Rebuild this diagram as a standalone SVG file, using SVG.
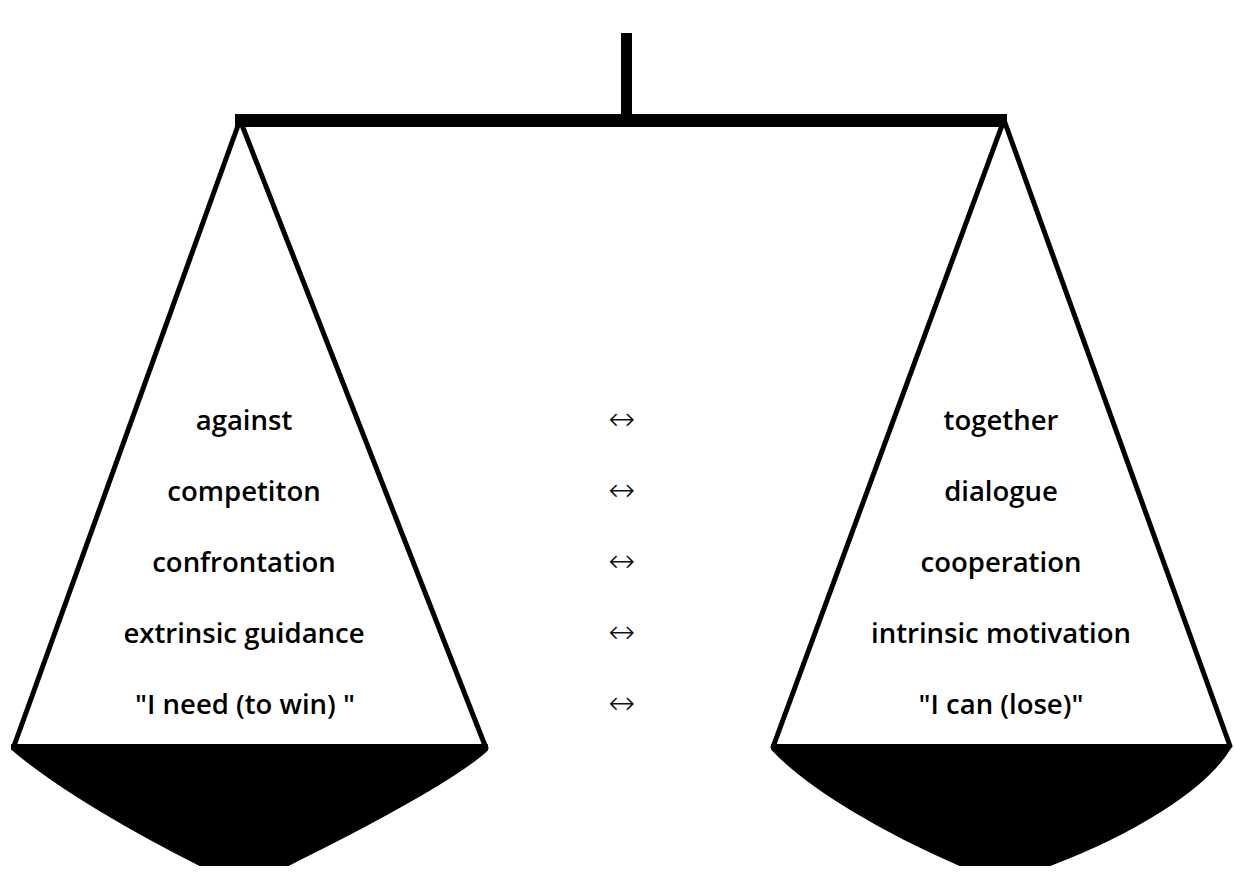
<svg xmlns="http://www.w3.org/2000/svg" width="1234" height="878" viewBox="0 0 1234 878">
  <style>
    .ln { fill: none; stroke: #000; stroke-width: 5; stroke-linecap: round; stroke-linejoin: round; }
    .bowl { fill: #000; stroke: #000; stroke-width: 2; stroke-linejoin: round; }
    .lbl { font-family: "Open Sans", "Liberation Sans", sans-serif; font-weight: 600; font-size: 27.5px; fill: #000; text-anchor: middle; }
    .arr { font-family: "DejaVu Sans", "Liberation Serif", sans-serif; font-weight: 200; font-size: 32px; fill: #111; text-anchor: middle; }
  </style>
  <rect width="1234" height="878" fill="#fff"/>
  <g id="beam">
    <rect x="621" y="33" width="11" height="88" fill="#000"/>
    <rect x="235" y="114" width="772" height="13" fill="#000"/>
  </g>
  <g id="left-pan">
    <path class="ln" d="M240,120 L14,746"/>
    <path class="ln" d="M240,120 L486,748"/>
    <path class="bowl" d="M12,745 L487,745 L487,750 C460,775 380,820 288,865 L200,865 C140,835 60,790 12,749 Z"/>
  </g>
  <g id="right-pan">
    <path class="ln" d="M1004,120 L773,747"/>
    <path class="ln" d="M1004,120 L1230,746"/>
    <path class="bowl" d="M772,745 L1230,745 L1230,748 C1205,790 1130,835 1050,865 L960,865 C890,835 810,790 772,749 Z"/>
  </g>
  <g id="left-labels">
    <text class="lbl" x="244" y="430">against</text>
    <text class="lbl" x="244" y="501">competiton</text>
    <text class="lbl" x="244" y="572">confrontation</text>
    <text class="lbl" x="244" y="643">extrinsic guidance</text>
    <text class="lbl" x="245" y="714">"I need (to win) "</text>
  </g>
  <g id="right-labels">
    <text class="lbl" x="1001" y="430">together</text>
    <text class="lbl" x="1001" y="501">dialogue</text>
    <text class="lbl" x="1001" y="572">cooperation</text>
    <text class="lbl" x="1001" y="643">intrinsic motivation</text>
    <text class="lbl" x="1001" y="714">"I can (lose)"</text>
  </g>
  <g id="connectors">
    <text class="arr" x="622" y="430">↔</text>
    <text class="arr" x="622" y="501">↔</text>
    <text class="arr" x="622" y="572">↔</text>
    <text class="arr" x="622" y="643">↔</text>
    <text class="arr" x="622" y="714">↔</text>
  </g>
</svg>
